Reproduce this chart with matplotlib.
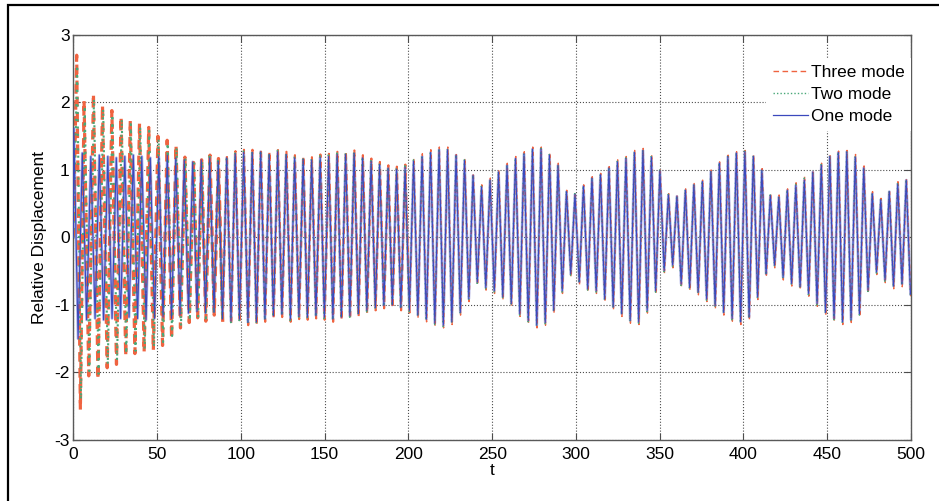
import numpy as np
import matplotlib
matplotlib.use("Agg")
import matplotlib.pyplot as plt
from matplotlib.patches import Rectangle

plt.rcParams['font.family'] = ['Liberation Sans', 'DejaVu Sans']
plt.rcParams['axes.unicode_minus'] = False

# ---------------- data ----------------
x_ticks = [0, 50, 100, 150, 200, 250, 300, 350, 400, 450, 500]
y_ticks = [-3, -2, -1, 0, 1, 2, 3]
x_label = 't'
y_label = 'Relative Displacement'
series_labels = ['Three mode', 'Two mode', 'One mode']

# One mode: peaks every one_period starting at one_t0; upper / lower extrema per cycle
one_t0 = 0.3
one_period = 5.07
one_hi = [1.62, 1.25, 1.20, 1.22, 1.20, 1.18, 1.20, 1.22, 1.20, 1.18, 1.20, 1.22, 1.18, 1.15, 1.12, 1.15,
          1.18, 1.13, 1.18, 1.24, 1.26, 1.26, 1.27, 1.23, 1.27, 1.23,
          1.18, 1.16, 1.15, 1.19, 1.20, 1.23, 1.23, 1.25, 1.18, 1.13,
          1.08, 1.03, 1.01, 1.04, 1.13, 1.20, 1.26, 1.30, 1.30, 1.22,
          1.14, 0.92, 0.75, 0.85, 0.97, 1.07, 1.17, 1.24, 1.31, 1.31,
          1.22, 1.07, 0.68, 0.64, 0.76, 0.88, 0.93, 1.03, 1.12, 1.17,
          1.26, 1.29, 1.19, 0.99, 0.63, 0.61, 0.70, 0.78, 0.83, 0.98,
          1.10, 1.20, 1.25, 1.27, 1.20, 1.00, 0.62, 0.60, 0.70, 0.77,
          0.85, 0.97, 1.07, 1.20, 1.26, 1.27, 1.19, 1.03, 0.65, 0.56,
          0.68, 0.79, 0.85]
one_lo = [-1.50, -1.22, -1.20, -1.22, -1.20, -1.20, -1.18, -1.20, -1.22, -1.20, -1.18, -1.20, -1.15, -1.12, -1.10, -1.12,
          -1.11, -1.21, -1.24, -1.21, -1.26, -1.25, -1.21, -1.16, -1.14, -1.21,
          -1.17, -1.18, -1.16, -1.18, -1.21, -1.18, -1.16, -1.13, -1.08, -1.04,
          -1.01, -1.00, -1.04, -1.08, -1.15, -1.21, -1.27, -1.30, -1.25, -1.11,
          -0.91, -0.66, -0.74, -0.79, -0.88, -0.98, -1.13, -1.23, -1.30, -1.26,
          -1.08, -0.79, -0.54, -0.66, -0.76, -0.79, -0.91, -1.03, -1.13, -1.23,
          -1.25, -1.08, -0.79, -0.49, -0.41, -0.69, -0.74, -0.81, -0.91, -1.01,
          -1.11, -1.20, -1.25, -1.18, -0.88, -0.54, -0.41, -0.59, -0.68, -0.73,
          -0.83, -0.98, -1.11, -1.20, -1.25, -1.22, -1.13, -0.78, -0.51, -0.63,
          -0.72, -0.69, -0.84]

# Three mode: early transient peaks (explicit times), later cycles follow the one-mode cycles
three_t_early = [2.0, 6.4, 12.0, 17.4, 23.0, 28.5, 34.0, 39.5, 45.0, 50.5, 56.0, 61.3, 66.6, 71.8, 76.6]
three_hi_early = [2.70, 2.03, 2.13, 1.96, 1.88, 1.79, 1.73, 1.69, 1.63, 1.50, 1.44, 1.37, 1.19, 1.11, 1.15]
three_lo_early = [-2.55, -2.05, -2.10, -1.93, -1.88, -1.76, -1.72, -1.70, -1.67, -1.60, -1.50, -1.34, -1.26, -1.19, -1.24]
three_late_first_cycle = 16
three_late_shift = 0.15
three_hi_late = [1.22, 1.17, 1.22, 1.28, 1.30, 1.30, 1.31, 1.27, 1.31, 1.27,
                 1.22, 1.20, 1.19, 1.23, 1.24, 1.27, 1.27, 1.29, 1.22, 1.17,
                 1.12, 1.07, 1.05, 1.08, 1.17, 1.24, 1.30, 1.34, 1.34, 1.25,
                 1.17, 0.95, 0.78, 0.88, 1.00, 1.10, 1.20, 1.27, 1.34, 1.34,
                 1.25, 1.10, 0.70, 0.66, 0.78, 0.90, 0.95, 1.05, 1.15, 1.20,
                 1.29, 1.32, 1.22, 1.02, 0.65, 0.63, 0.72, 0.80, 0.85, 1.00,
                 1.12, 1.22, 1.27, 1.29, 1.22, 1.02, 0.65, 0.63, 0.72, 0.81,
                 0.90, 0.97, 1.10, 1.22, 1.28, 1.29, 1.23, 1.06, 0.68, 0.58,
                 0.70, 0.85, 0.87]
three_lo_late = [-1.15, -1.25, -1.28, -1.25, -1.30, -1.29, -1.25, -1.20, -1.18, -1.25,
                 -1.21, -1.22, -1.20, -1.22, -1.25, -1.22, -1.20, -1.17, -1.12, -1.08,
                 -1.05, -1.04, -1.08, -1.12, -1.19, -1.25, -1.31, -1.34, -1.29, -1.15,
                 -0.95, -0.70, -0.78, -0.83, -0.92, -1.02, -1.17, -1.27, -1.34, -1.30,
                 -1.12, -0.83, -0.58, -0.70, -0.80, -0.83, -0.95, -1.07, -1.17, -1.27,
                 -1.29, -1.12, -0.83, -0.53, -0.45, -0.73, -0.78, -0.85, -0.95, -1.05,
                 -1.15, -1.24, -1.29, -1.22, -0.92, -0.58, -0.45, -0.63, -0.72, -0.77,
                 -0.87, -1.02, -1.15, -1.24, -1.29, -1.26, -1.17, -0.82, -0.55, -0.67,
                 -0.76, -0.73, -0.88]

# Two mode
two_t_early = [2.3, 6.8, 12.3, 17.8, 23.3, 28.9, 34.3, 39.9, 45.3, 50.9, 56.3, 61.6, 66.9, 72.1, 76.9]
two_hi_early = [2.55, 1.95, 2.05, 1.90, 1.82, 1.75, 1.68, 1.64, 1.58, 1.46, 1.40, 1.33, 1.17, 1.10, 1.13]
two_lo_early = [-2.40, -1.98, -2.02, -1.88, -1.82, -1.72, -1.68, -1.65, -1.62, -1.55, -1.46, -1.31, -1.23, -1.17, -1.20]
two_late_first_cycle = 16
two_late_shift = -0.10
two_hi_late = [1.20, 1.15, 1.20, 1.26, 1.28, 1.28, 1.29, 1.25, 1.29, 1.25,
               1.20, 1.18, 1.17, 1.21, 1.22, 1.25, 1.25, 1.27, 1.20, 1.15,
               1.10, 1.05, 1.03, 1.06, 1.15, 1.22, 1.28, 1.32, 1.32, 1.23,
               1.15, 0.93, 0.76, 0.86, 0.98, 1.08, 1.18, 1.25, 1.32, 1.32,
               1.23, 1.08, 0.69, 0.65, 0.77, 0.89, 0.94, 1.04, 1.13, 1.18,
               1.27, 1.30, 1.20, 1.00, 0.64, 0.62, 0.71, 0.79, 0.84, 0.99,
               1.11, 1.21, 1.26, 1.28, 1.21, 1.01, 0.63, 0.61, 0.71, 0.79,
               0.88, 0.95, 1.08, 1.21, 1.27, 1.28, 1.21, 1.04, 0.66, 0.57,
               0.69, 0.82, 0.86]
two_lo_late = [-1.13, -1.23, -1.26, -1.23, -1.28, -1.27, -1.23, -1.18, -1.16, -1.23,
               -1.19, -1.20, -1.18, -1.20, -1.23, -1.20, -1.18, -1.15, -1.10, -1.06,
               -1.03, -1.02, -1.06, -1.10, -1.17, -1.23, -1.29, -1.32, -1.27, -1.13,
               -0.93, -0.68, -0.76, -0.81, -0.90, -1.00, -1.15, -1.25, -1.32, -1.28,
               -1.10, -0.81, -0.56, -0.68, -0.78, -0.81, -0.93, -1.05, -1.15, -1.25,
               -1.27, -1.10, -0.81, -0.51, -0.43, -0.71, -0.76, -0.83, -0.93, -1.03,
               -1.13, -1.22, -1.27, -1.20, -0.90, -0.56, -0.43, -0.61, -0.70, -0.75,
               -0.85, -1.00, -1.13, -1.22, -1.27, -1.24, -1.15, -0.80, -0.53, -0.65,
               -0.74, -0.71, -0.86]


# ---------------- build the curves through the read extrema ----------------
def extrema_curve(peak_t, hi, lo, period):
    peak_t = np.asarray(peak_t, float)
    trough_t = np.append((peak_t[:-1] + peak_t[1:]) / 2.0, peak_t[-1] + period / 2.0)
    n = len(peak_t)
    t = np.zeros(2 * n + 1)
    y = np.zeros(2 * n + 1)
    t[1::2] = peak_t
    t[2::2] = trough_t
    y[1::2] = hi
    y[2::2] = lo
    return t, y


one_peaks = one_t0 + one_period * np.arange(len(one_hi))
t1, y1 = extrema_curve(one_peaks, one_hi, one_lo, one_period)

three_peaks = np.concatenate([three_t_early,
                              one_peaks[three_late_first_cycle:] + three_late_shift])
t3, y3 = extrema_curve(three_peaks, three_hi_early + three_hi_late,
                       three_lo_early + three_lo_late, one_period)

two_peaks = np.concatenate([two_t_early,
                            one_peaks[two_late_first_cycle:] + two_late_shift])
t2, y2 = extrema_curve(two_peaks, two_hi_early + two_hi_late,
                       two_lo_early + two_lo_late, one_period)

# ---------------- figure ----------------
fig = plt.figure(figsize=(9.39, 5.01), dpi=100)
fig.patches.append(Rectangle((8 / 939, -0.2), 1.2, 1.2 - 5 / 501, transform=fig.transFigure,
                             fill=False, edgecolor='black', linewidth=1.6, zorder=0))
ax = fig.add_axes([0.0781, 0.1218, 0.8921, 0.8084])

THREE_C = '#ef6340'
TWO_C = '#48a878'
ONE_C = '#3b48bd'


def plot_pieces(t, y, color, ls, widths, cuts, z):
    """Draw a curve in consecutive time pieces; earlier pieces drawn heavier (styling only)."""
    edges = [t[0] - 1] + list(cuts) + [t[-1] + 1]
    for i, lw in enumerate(widths):
        lo_e, hi_e = edges[i], edges[i + 1]
        idx = np.where((t >= lo_e) & (t <= hi_e))[0]
        if len(idx) == 0:
            continue
        a = max(idx[0] - 1, 0)
        b = min(idx[-1] + 2, len(t))
        ax.plot(t[a:b], y[a:b], color=color, lw=lw, ls=ls, zorder=z)


ax.plot(t1, y1, color='#aeb3e8', lw=2.0, zorder=1)
plot_pieces(t3, y3, THREE_C, (0, (3, 2)), [2.3, 1.5, 1.0], [88, 200], 2)
plot_pieces(t2, y2, TWO_C, (0, (1, 2.5)), [1.5, 1.2, 1.0], [88, 200], 3)
ax.plot(t1, y1, color=ONE_C, lw=0.8, zorder=4)

# legend proxies
h3, = ax.plot([], [], color=THREE_C, lw=1.0, ls=(0, (4, 2.5)))
h2, = ax.plot([], [], color=TWO_C, lw=1.0, ls=(0, (1, 1.5)))
h1, = ax.plot([], [], color=ONE_C, lw=0.9)

ax.set_xlim(0, 500)
ax.set_ylim(-3, 3)
ax.set_xticks(x_ticks)
ax.set_yticks(y_ticks)
ax.set_xlabel(x_label, fontsize=12.5, labelpad=1)
ax.set_ylabel(y_label, fontsize=12.5, labelpad=5)
ax.tick_params(direction='in', length=5, top=True, right=True, labelsize=12.5, color='0.3')
ax.tick_params(axis='x', pad=5)
ax.tick_params(axis='y', pad=2.5)
ax.grid(True, ls=':', color='0.3', lw=0.8)
ax.set_axisbelow(True)
for s in ax.spines.values():
    s.set_color('0.35')
    s.set_linewidth(1.0)

ax.legend([h3, h2, h1], series_labels, loc='upper right', bbox_to_anchor=(1.0005, 0.944),
          borderaxespad=0, frameon=True, fancybox=False, edgecolor='none', facecolor='white',
          framealpha=1, fontsize=12.5, handlelength=2.0, handletextpad=0.15,
          labelspacing=0.4, borderpad=0.4)

fig.savefig('out.png', dpi=100)
